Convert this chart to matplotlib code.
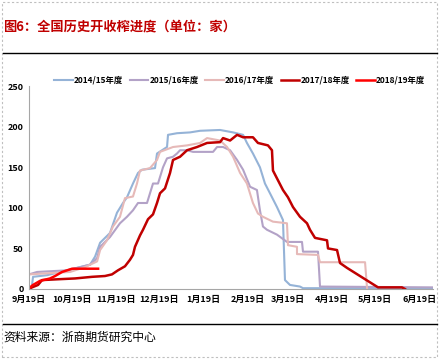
import matplotlib
matplotlib.use('Agg')
import matplotlib.pyplot as plt
from matplotlib.patches import Rectangle
from matplotlib.lines import Line2D

plt.rcParams['font.family'] = ['Noto Sans CJK SC', 'DejaVu Sans']

# days since 9/19, values = number of factories
d_1415 = [2.1, 2.8, 12.6, 26.6, 42.7, 46.2, 49.7, 56.6, 61.5, 65.7, 68.5, 72.7, 76.2, 79.0, 88.1, 89.5, 96.5,
          97.2, 103.5, 112.6, 119.6, 133.6, 142.7, 149.7, 152.4, 156.6, 161.5, 165.0, 168.5, 173.4, 177.6,
          179.0, 182.5, 189.5, 191.6, 282.5]
v_1415 = [5, 15, 17, 23, 30, 40, 57, 69, 94, 106, 113, 130, 143, 147, 149, 167, 175, 190, 192, 193, 195, 196, 193,
          190, 180, 167, 150, 130, 118, 101, 85, 11, 5, 3, 1, 1]

d_1516 = [0, 5.6, 26.6, 42.7, 47.6, 49.7, 56.6, 63.6, 68.5, 72.7, 76.2, 82.5, 86.7, 90.2, 93.7, 96.5, 100.7,
          103.5, 105.6, 110.5, 114.7, 128.7, 131.5, 135.7, 140.6, 145.5, 149.7, 154.6, 159.4, 161.5, 163.6,
          166.4, 173.4, 180.4, 190.9, 191.6, 202.1, 203.5, 282.5]
v_1516 = [18, 21, 23, 30, 38, 52, 64, 81, 89, 97, 106, 106, 130, 130, 150, 161, 163, 167, 171, 171, 169, 169, 175,
          175, 171, 159, 147, 126, 122, 97, 77, 73, 67, 58, 58, 46, 46, 3, 2]

d_1617 = [0, 28.7, 39.2, 47.6, 49.7, 54.5, 58.7, 63.6, 67.1, 72.7, 75.5, 77.6, 84.6, 89.5, 91.6, 100.7, 110.5,
          119.6, 124.5, 133.6, 138.5, 142.7, 147.6, 152.4, 156.6, 160.1, 163.6, 170.6, 180.4, 181.1, 187.4,
          187.4, 202.1, 203.5, 235.0, 236.4]
v_1617 = [18, 21, 27, 34, 48, 60, 77, 89, 112, 114, 130, 146, 149, 159, 169, 175, 177, 180, 186, 183, 175, 163,
          143, 130, 106, 93, 89, 83, 81, 54, 52, 43, 42, 33, 33, 1]

d_1718 = [0, 2.1, 6.3, 9.1, 20.3, 32.2, 44.1, 53.1, 58.0, 62.2, 67.1, 70.6, 72.7, 74.1, 77.6, 79.7, 83.2, 86.7,
          89.5, 91.6, 95.1, 98.6, 100.7, 105.6, 110.5, 117.5, 124.5, 133.6, 135.7, 140.6, 145.5, 149.7, 156.6,
          160.1, 167.1, 169.9, 170.6, 174.1, 177.6, 181.1, 184.6, 189.5, 194.4, 196.5, 200.0, 208.4, 209.1,
          215.4, 217.5, 222.4, 244.1, 260.8, 262.9]
v_1718 = [0, 2, 5, 11, 12, 13, 15, 16, 18, 23, 28, 36, 42, 52, 66, 73, 86, 92, 106, 118, 124, 143, 159, 163, 171,
          175, 180, 181, 186, 183, 190, 187, 187, 180, 177, 171, 146, 134, 122, 113, 101, 89, 81, 73, 63, 60, 50,
          48, 32, 26, 2, 2, 0]

d_1819 = [0, 2.8, 7.7, 14.7, 18.2, 23.1, 26.6, 30.1, 35.7, 48.3]
v_1819 = [1, 5, 10, 13, 16, 21, 23, 25, 25, 25]

tick_days = [0, 30, 61, 91, 122, 153, 181, 212, 242, 273]
tick_labels = ['9月19日', '10月19日', '11月19日', '12月19日', '1月19日', '2月19日',
               '3月19日', '4月19日', '5月19日', '6月19日']

fig = plt.figure(figsize=(4.4, 3.59), dpi=100)
ax = fig.add_axes([0.066, 0.195, 0.918, 0.565])

ax.plot(d_1415, v_1415, color='#95B3D7', lw=1.5, label='2014/15年度')
ax.plot(d_1516, v_1516, color='#B3A2C7', lw=1.5, label='2015/16年度')
ax.plot(d_1617, v_1617, color='#E6B9B8', lw=1.5, label='2016/17年度')
ax.plot(d_1718, v_1718, color='#C00000', lw=1.8, label='2017/18年度')
ax.plot(d_1819, v_1819, color='#FF0000', lw=1.8, label='2018/19年度')

ax.set_xlim(0, 282.5)
ax.set_ylim(0, 250)
ax.set_yticks([0, 50, 100, 150, 200, 250])
ax.set_xticks(tick_days)
ax.set_xticklabels(tick_labels)
for lab in ax.get_xticklabels() + ax.get_yticklabels():
    lab.set_fontsize(6.5)
    lab.set_fontweight('bold')
ax.tick_params(length=0, pad=4)
for s in ['top', 'right']:
    ax.spines[s].set_visible(False)
for s in ['left', 'bottom']:
    ax.spines[s].set_color('#A6A6A6')
    ax.spines[s].set_linewidth(0.8)

fig.legend(loc='center', bbox_to_anchor=(0.545, 0.777), ncol=5, frameon=False,
           prop={'size': 6, 'weight': 'bold'}, handlelength=2.2, columnspacing=0.75,
           handletextpad=0.2)

# title, rules and source
fig.text(0.007, 0.927, '图6：全国历史开收榨进度（单位：家）', color='#C00000', fontsize=9.5,
         fontweight='bold', va='center', ha='left')
fig.add_artist(Line2D([0.007, 0.993], [0.852, 0.852], color='black', lw=1.0))
fig.add_artist(Line2D([0.007, 0.993], [0.097, 0.097], color='black', lw=1.0))
fig.text(0.007, 0.062, '资料来源：浙商期货研究中心', color='black', fontsize=8.5,
         va='center', ha='left')
fig.add_artist(Rectangle((0.005, 0.006), 0.988, 0.988, fill=False, ec='#BFBFBF',
                         lw=0.8, ls=(0, (2, 2)), transform=fig.transFigure))

fig.savefig('out.png', dpi=100)
